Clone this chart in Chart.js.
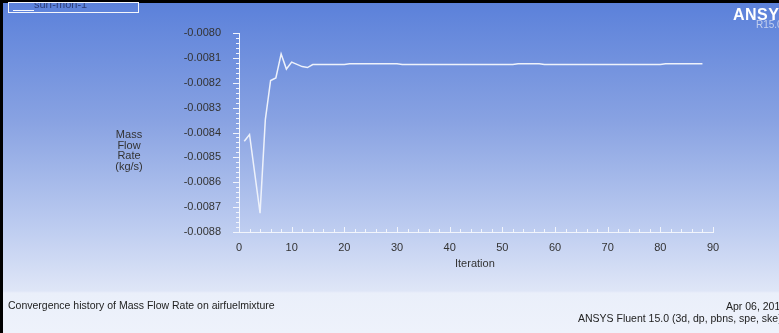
<!DOCTYPE html>
<html>
<head>
<meta charset="utf-8">
<script src="https://cdn.jsdelivr.net/npm/chart.js@4/dist/chart.umd.min.js"></script>
<style>
  html, body { margin: 0; padding: 0; }
  body { width: 779px; height: 333px; overflow: hidden; position: relative;
         font-family: 'Liberation Sans', Arial, sans-serif; }
  #bg { position: absolute; left: 0; top: 0; width: 779px; height: 333px;
        background: linear-gradient(to bottom, #5a80da 0px, #88a2e2 120px, #b9c9ef 220px, #dfe6f7 291px, #eaeffa 293px, #eef2fb 333px); }
  #frameTop { position: absolute; left: 0; top: 0; width: 779px; height: 3px; background: #000; }
  #frameLeft { position: absolute; left: 0; top: 0; width: 3px; height: 333px; background: #000; }
  canvas { position: absolute; left: 0; top: 0; }
  .txt { position: absolute; white-space: nowrap; color: #222; }
  #legend { position: absolute; left: 8px; top: 2px; width: 129px; height: 9px;
            border: 1px solid #f4f6fc; overflow: hidden; }
  #legend .sample { position: absolute; left: 4px; top: 7px; width: 21px; height: 1px; background: #f4f6fc; }
  #legend .lbl { position: absolute; left: 25px; top: -5px; font-size: 11px; color: #2c3c78; }
  #ytitle { left: 100px; top: 129px; width: 58px; text-align: center; font-size: 11px; line-height: 10.5px; color: #333; }
</style>
</head>
<body>
<div id="bg"></div>
<canvas id="myChart" width="779" height="333"></canvas>
<div id="frameTop"></div>
<div id="frameLeft"></div>
<div id="legend"><div class="sample"></div><div class="lbl">surf-mon-1</div></div>
<div class="txt" style="left:733px; top:6px; font-size:16px; font-weight:bold; color:#fff; letter-spacing:0.5px;">ANSYS</div>
<div class="txt" style="left:756px; top:19px; font-size:10px; color:#c4d0ee;">R15.0</div>
<div class="txt" id="ytitle">Mass<br>Flow<br>Rate<br>(kg/s)</div>
<div class="txt" style="left:455px; top:257px; font-size:11px; color:#333;">Iteration</div>
<div class="txt" style="left:8px; top:299px; font-size:10.5px;">Convergence history of Mass Flow Rate on airfuelmixture</div>
<div class="txt" style="left:726px; top:300px; font-size:10.5px;">Apr 06, 2016</div>
<div class="txt" style="left:578px; top:312px; font-size:10.5px;">ANSYS Fluent 15.0 (3d, dp, pbns, spe, ske)</div>
<script>
(function () {
    // Monitor data (vertices)
    const iterations = [1, 2, 4, 5, 6, 7, 8, 9, 10, 12, 13, 14, 20, 21, 30, 31, 52, 53, 57, 58, 80, 81, 88];
    const massFlow = [-0.008435, -0.008408, -0.008724, -0.008348, -0.008191, -0.008181, -0.008084, -0.008145,
                      -0.008117, -0.008135, -0.008139, -0.008127, -0.008127, -0.008124, -0.008124, -0.008127,
                      -0.008127, -0.008124, -0.008124, -0.008127, -0.008127, -0.008124, -0.008124];
    const xRange = [0, 90];
    const yRange = [-0.0088, -0.0080];

    const points = iterations.map((it, i) => ({ x: it, y: massFlow[i] }));

    // ANSYS style minor/major tick marks
    const tickMarks = {
        id: 'tickMarks',
        afterDraw(chart) {
            const ctx = chart.ctx;
            const xs = chart.scales.x, ys = chart.scales.y;
            ctx.save();
            ctx.strokeStyle = '#f2f5fc';
            ctx.lineWidth = 1;
            ctx.beginPath();
            const yn = 40;
            for (let i = 0; i <= yn; i++) {
                const v = yRange[0] + i * (yRange[1] - yRange[0]) / yn;
                const p = Math.round(ys.getPixelForValue(v)) + 0.5;
                const len = (i % 5 === 0) ? 6 : 3;
                ctx.moveTo(xs.left, p);
                ctx.lineTo(xs.left - len, p);
            }
            const xn = 45;
            for (let i = 0; i <= xn; i++) {
                const v = xRange[0] + i * (xRange[1] - xRange[0]) / xn;
                const p = Math.round(xs.getPixelForValue(v)) + 0.5;
                const len = (i % 5 === 0) ? 5 : 3;
                ctx.moveTo(p, ys.bottom);
                ctx.lineTo(p, ys.bottom - len);
            }
            ctx.stroke();
            ctx.restore();
        }
    };

    Chart.defaults.font.family = "'Liberation Sans', Arial, sans-serif";
    Chart.defaults.color = '#333';

    new Chart(document.getElementById('myChart'), {
        type: 'scatter',
        data: {
            datasets: [{
                label: 'surf-mon-1',
                data: points,
                showLine: true,
                borderColor: '#eef2fb',
                borderWidth: 1.5,
                pointRadius: 0,
                tension: 0
            }]
        },
        options: {
            responsive: false,
            animation: false,
            events: [],
            layout: { padding: { left: 0, top: 33, right: 66, bottom: 0 } },
            plugins: { legend: { display: false }, tooltip: { enabled: false } },
            scales: {
                x: {
                    type: 'linear',
                    min: xRange[0],
                    max: xRange[1],
                    afterFit(s) { s.height = 101; },
                    grid: { display: false, drawTicks: false },
                    border: { display: true, color: '#f2f5fc', width: 1 },
                    ticks: { stepSize: 10, padding: 9, font: { size: 11 }, maxRotation: 0 }
                },
                y: {
                    min: yRange[0],
                    max: yRange[1],
                    afterFit(s) { s.width = 239; },
                    grid: { display: false, drawTicks: false },
                    border: { display: true, color: '#f2f5fc', width: 1 },
                    ticks: {
                        stepSize: 0.0001,
                        padding: 18,
                        font: { size: 11 },
                        callback: (v) => v.toFixed(4)
                    }
                }
            }
        },
        plugins: [tickMarks]
    });
})();
</script>
</body>
</html>
